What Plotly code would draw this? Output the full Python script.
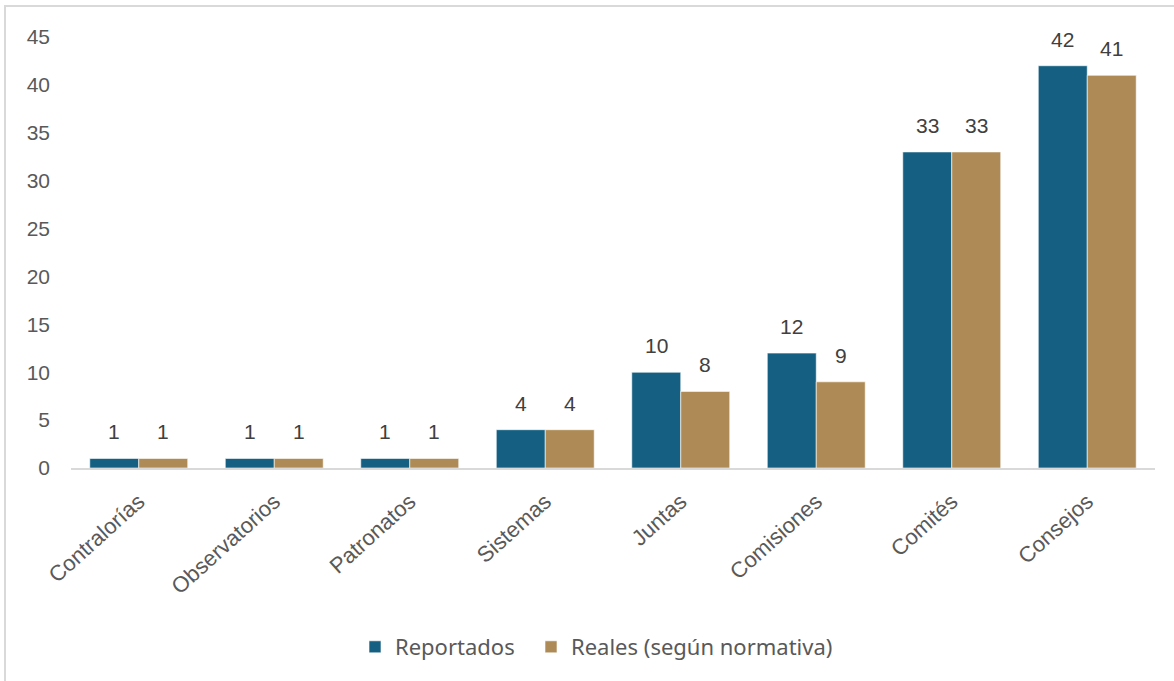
import plotly.graph_objects as go

categories = ["Contralorías", "Observatorios", "Patronatos", "Sistemas",
              "Juntas", "Comisiones", "Comités", "Consejos"]
reportados = [1, 1, 1, 4, 10, 12, 33, 42]
reales = [1, 1, 1, 4, 8, 9, 33, 41]
series_names = ["Reportados", "Reales (según normativa)"]
y_ticks = [0, 5, 10, 15, 20, 25, 30, 35, 40, 45]

BLUE = "#156082"
TAN = "#AE8B56"
TXT = "#595959"
LBL = "#404040"
FONT = "Liberation Sans"

L, R, T, B = 71, 19, 37, 213
W = 1174 - L - R
H = 681 - T - B

fig = go.Figure()
for name, vals, col, lg in [(series_names[0], reportados, BLUE, "legend"),
                            (series_names[1], reales, TAN, "legend2")]:
    fig.add_trace(go.Bar(
        x=categories, y=vals, name=name, legend=lg,
        marker=dict(color=col, line=dict(color="rgba(255,255,255,0.6)", width=1)),
        hoverinfo="x+y+name",
    ))

step = W / len(categories)
bargap = 0.277
off = (1 - bargap) / 4 * step
for vals, sh in [(reportados, -off), (reales, off)]:
    for c, v in zip(categories, vals):
        fig.add_annotation(x=c, y=v, xref="x", yref="y", text=str(v),
                           showarrow=False, xshift=sh, yshift=13, yanchor="bottom",
                           font=dict(family=FONT, size=21, color=LBL))

fig.add_shape(type="rect", xref="paper", yref="paper",
              x0=(5 - L) / W, x1=(1190 - L) / W,
              y0=(681 - 700 - B) / H, y1=1 + (T - 6) / H,
              line=dict(color="#d9d9d9", width=2), fillcolor="rgba(0,0,0,0)", layer="below")

leg_font = dict(family="Noto Sans", size=22, color=TXT)
ly = (468 - 647) / H
fig.update_layout(
    width=1174, height=681,
    margin=dict(l=L, r=R, t=T, b=B, pad=0),
    paper_bgcolor="white", plot_bgcolor="white",
    barmode="group", bargap=bargap, bargroupgap=0,
    showlegend=True,
    legend=dict(orientation="h", x=(355 - L) / W, xanchor="left",
                y=ly, yanchor="middle", font=leg_font),
    legend2=dict(orientation="h", x=(531 - L) / W, xanchor="left",
                 y=ly, yanchor="middle", font=leg_font),
    font=dict(family=FONT, color=TXT),
)
fig.update_xaxes(showline=True, linecolor="#d9d9d9", linewidth=2, showgrid=False,
                 tickangle=-42, ticks="", ticklabelstandoff=10,
                 tickfont=dict(family=FONT, size=22, color=TXT))
fig.update_yaxes(range=[0, 45], tickvals=y_ticks, showgrid=False, zeroline=False,
                 showline=False, ticks="", ticklabelstandoff=20,
                 tickfont=dict(family=FONT, size=21, color=TXT))

fig.write_html("out.html", config={"displayModeBar": False},
               post_script="document.body.style.margin='0px';document.body.style.overflow='hidden';")
